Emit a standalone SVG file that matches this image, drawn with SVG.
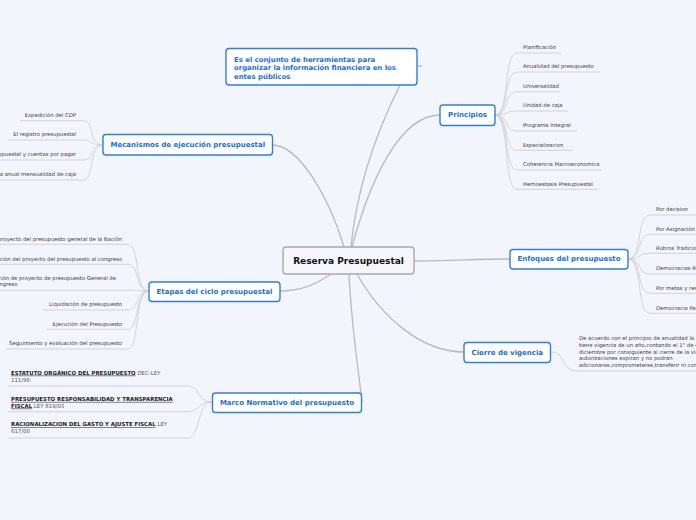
<svg xmlns="http://www.w3.org/2000/svg" width="696" height="520" viewBox="0 0 696 520">
<style>
.bg{fill:#f3f5fd}
.node rect{fill:#ffffff;stroke:#2f7fe0;stroke-width:1.4}
.node text{font-family:"DejaVu Sans",Verdana,sans-serif;font-weight:bold;font-size:7px;fill:#1a6fd6;text-anchor:middle;dominant-baseline:central}
.root rect{fill:#f4f6fc;stroke:#a9a9a9;stroke-width:1.4}
.root text{font-family:"DejaVu Sans",Verdana,sans-serif;font-weight:bold;font-size:9px;fill:#111;text-anchor:middle;dominant-baseline:central}
.main{fill:none;stroke:#b9b9b9;stroke-width:1.3}
.br{fill:none;stroke:#cfcfcf;stroke-width:0.9}
.t{font-family:"DejaVu Sans",Verdana,sans-serif;font-size:5.3px;fill:#3a3a3a;dominant-baseline:central}
.e{text-anchor:end}
.node.top text{font-family:"DejaVu Sans",Verdana,sans-serif;font-weight:bold;font-size:6.9px;fill:#1a6fd6;text-anchor:start;dominant-baseline:auto}
.m{font-family:"DejaVu Sans",Verdana,sans-serif;font-size:5.4px;fill:#555}
.b{font-weight:bold;fill:#222;text-decoration:underline}
</style>
<rect class="bg" x="0" y="0" width="696" height="520"/>
<g id="connectors">
<path class="main" d="M351,247 C358,175 385,115 400,85"/>
<path class="main" d="M352,247 C370,180 400,115 440,115"/>
<path class="main" d="M272,145 C300,145 330,200 344,247"/>
<path class="main" d="M414,261 C460,261 470,259 510,259"/>
<path class="main" d="M357,274 C380,315 420,352 464,352"/>
<path class="main" d="M349,274 C351,320 357,360 362,402"/>
<path class="main" d="M331,274 C315,285 300,291 280,291"/>
<path class="main" d="M418,66 L422,66"/>
<path class="br" d="M495,115 C510,115 503,53 517,53 L561,53"/>
<path class="br" d="M495,115 C510,115 503,72 517,72 L600,72"/>
<path class="br" d="M495,115 C510,115 503,91.7 517,91.7 L560,91.7"/>
<path class="br" d="M495,115 C510,115 503,111 517,111 L568,111"/>
<path class="br" d="M495,115 C510,115 503,131 517,131 L577,131"/>
<path class="br" d="M495,115 C510,115 503,150.3 517,150.3 L573,150.3"/>
<path class="br" d="M495,115 C510,115 503,170 517,170 L602,170"/>
<path class="br" d="M495,115 C510,115 503,189.3 517,189.3 L599,189.3"/>
<path class="br" d="M628,259 C643,259 636,215 650,215 L700,215"/>
<path class="br" d="M628,259 C643,259 636,234.3 650,234.3 L700,234.3"/>
<path class="br" d="M628,259 C643,259 636,253.3 650,253.3 L700,253.3"/>
<path class="br" d="M628,259 C643,259 636,274 650,274 L700,274"/>
<path class="br" d="M628,259 C643,259 636,293.3 650,293.3 L700,293.3"/>
<path class="br" d="M628,259 C643,259 636,313.3 650,313.3 L700,313.3"/>
<path class="br" d="M551,352 C566,352 560,371 578,371 L700,371"/>
<path class="br" d="M103,145 C88,145 95,120.7 83,120.7 L20,120.7"/>
<path class="br" d="M103,145 C88,145 95,140 83,140 L8,140"/>
<path class="br" d="M103,145 C88,145 95,160 83,160 L-2,160"/>
<path class="br" d="M103,145 C88,145 95,180 83,180 L-2,180"/>
<path class="br" d="M149,291 C134,291 140,244.3 128,244.3 L-2,244.3"/>
<path class="br" d="M149,291 C134,291 140,264.3 128,264.3 L-2,264.3"/>
<path class="br" d="M149,291 C134,291 140,290.3 128,290.3 L-2,290.3"/>
<path class="br" d="M149,291 C134,291 140,310 128,310 L43,310"/>
<path class="br" d="M149,291 C134,291 140,329.3 128,329.3 L47,329.3"/>
<path class="br" d="M149,291 C134,291 140,349 128,349 L5,349"/>
<path class="br" d="M212,402 C197,402 200,386 188,386 L8,386"/>
<path class="br" d="M212,402 C197,402 200,411.7 188,411.7 L8,411.7"/>
<path class="br" d="M212,402 C197,402 200,438 188,438 L8,438"/>
</g>
<g id="root" class="root">
<rect x="283" y="247" width="131" height="27" rx="3"/>
<text x="348.5" y="260.5">Reserva Presupuestal</text>
</g>
<g id="definicion" class="node top">
<rect x="226" y="48.5" width="191" height="36.5" rx="3"/>
<text x="234" y="61.5">Es el conjunto de herramientas para</text>
<text x="234" y="70">organizar la información financiera en los</text>
<text x="234" y="78.5">entes públicos</text>
</g>
<g id="principios" class="node">
<rect x="440" y="105" width="55" height="20.5" rx="3"/>
<text x="467.5" y="115.3">Principios</text>
</g>
<g id="principios-items">
<text class="t" x="523" y="47.3">Planificación</text>
<text class="t" x="523" y="66.3">Anualidad del presupuesto</text>
<text class="t" x="523" y="86">Universalidad</text>
<text class="t" x="523" y="105.3">Unidad de caja</text>
<text class="t" x="523" y="125.3">Programa Integral</text>
<text class="t" x="523" y="144.6">Especializacion</text>
<text class="t" x="523" y="164.3">Coherencia Macroeconomica</text>
<text class="t" x="523" y="183.6">Hemoestasis Presupuestal</text>
</g>
<g id="enfoques" class="node">
<rect x="510" y="249.5" width="118" height="19.5" rx="3"/>
<text x="569" y="259.3">Enfoques del presupuesto</text>
</g>
<g id="enfoques-items">
<text class="t" x="656" y="209.3">Por decision</text>
<text class="t" x="656" y="228.6">Por Asignación</text>
<text class="t" x="656" y="247.6">Rubros Tradicionales</text>
<text class="t" x="656" y="268.3">Democracias Representativas</text>
<text class="t" x="656" y="287.6">Por metas y resultados</text>
<text class="t" x="656" y="307.6">Democracia Participativa</text>
</g>
<g id="cierre" class="node">
<rect x="464" y="342.5" width="86.5" height="20" rx="3"/>
<text x="507.3" y="352.5">Cierre de vigencia</text>
</g>
<g id="cierre-text">
<text class="t" x="579" y="338.4">De acuerdo con el principio de anualidad la ley</text>
<text class="t" x="579" y="345">tiene vigencia de un año,contando el 1° de enero</text>
<text class="t" x="579" y="351.5">diciembre por consiguiente al cierre de la vigencia</text>
<text class="t" x="579" y="358">autorizaciones expiran y no podrán</text>
<text class="t" x="579" y="364.5">adicionarse,comprometerse,transferir ni contracreditarse</text>
</g>
<g id="mecanismos" class="node">
<rect x="103" y="134.5" width="169.5" height="20.5" rx="3"/>
<text x="187.8" y="144.8">Mecanismos de ejecución presupuestal</text>
</g>
<g id="mecanismos-items">
<text class="t e" x="76" y="115">Expedición del CDP</text>
<text class="t e" x="76" y="134.3">El registro presupuestal</text>
<text class="t e" x="76" y="154.3">Reserva presupuestal y cuentas por pagar</text>
<text class="t e" x="76" y="174.3">Programa anual mensualidad de caja</text>
</g>
<g id="etapas" class="node">
<rect x="149" y="282" width="131" height="19.5" rx="3"/>
<text x="214.5" y="291.7">Etapas del ciclo presupuestal</text>
</g>
<g id="etapas-items">
<text class="t e" x="122" y="238.6">Preparación del proyecto del presupuesto general de la Nación</text>
<text class="t e" x="122" y="258.6">Presentación del proyecto del presupuesto al congreso</text>
<text class="t e" x="116" y="277.7">Aprobación de proyecto de presupuesto General de</text>
<text class="t e" x="17.5" y="284.4">el Congreso</text>
<text class="t e" x="122" y="304.3">Liquidación de presupuesto</text>
<text class="t e" x="122" y="323.6">Ejecución del Presupuesto</text>
<text class="t e" x="122" y="343.3">Seguimiento y evaluación del presupuesto</text>
</g>
<g id="marco" class="node">
<rect x="212.5" y="393" width="149" height="19.5" rx="3"/>
<text x="287" y="402.8">Marco Normativo del presupuesto</text>
</g>
<g id="marco-items">
<text class="m" x="11" y="374.6"><tspan class="b">ESTATUTO ORGÁNICO DEL PRESUPUESTO</tspan> DEC-LEY</text>
<text class="m" x="11" y="381.9">111/96</text>
<text class="m" x="11" y="400.9"><tspan class="b">PRESUPUESTO RESPONSABILIDAD Y TRANSPARENCIA</tspan></text>
<text class="m" x="11" y="407.6"><tspan class="b">FISCAL</tspan> LEY 819/03</text>
<text class="m" x="11" y="426.2"><tspan class="b">RACIONALIZACION DEL GASTO Y AJUSTE FISCAL</tspan> LEY</text>
<text class="m" x="11" y="433.2">617/00</text>
</g>
</svg>
